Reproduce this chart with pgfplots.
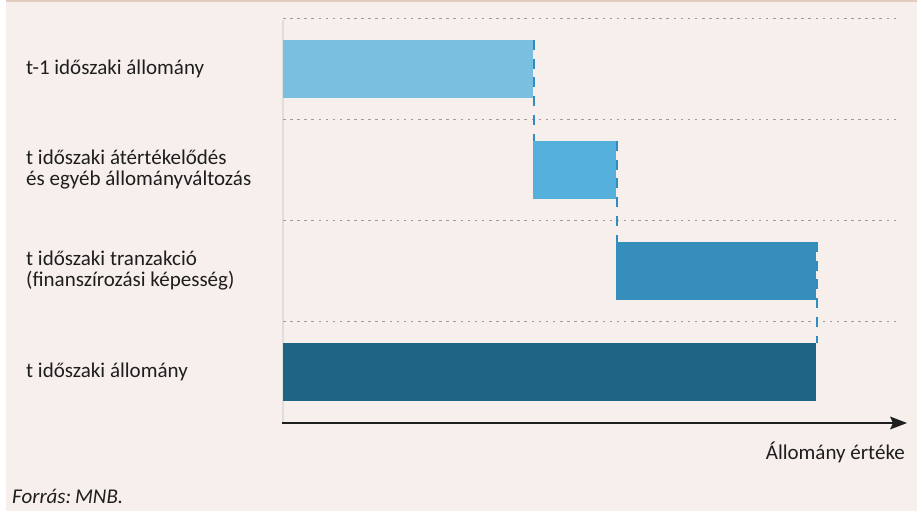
\documentclass[border=0pt]{standalone}
\usepackage{fontspec}
\setmainfont{Carlito}
\usepackage{pgfplots}
\pgfplotsset{compat=1.18}

\definecolor{bg}{HTML}{F6EFEC}
\definecolor{topline}{HTML}{E2CBBF}
\definecolor{barA}{HTML}{7BBFE0}
\definecolor{barB}{HTML}{56B0DC}
\definecolor{barC}{HTML}{358FBA}
\definecolor{barD}{HTML}{1E6585}
\definecolor{conn}{HTML}{2F8DC2}
\definecolor{gridc}{HTML}{9C9C9C}
\definecolor{txt}{HTML}{1E1E1E}

\begin{document}
\begin{tikzpicture}[x=1pt,y=1pt]
\useasboundingbox (0,0) rectangle (917,-511);
\fill[bg] (6,0) rectangle (917,-511);
\fill[topline] (6,0) rectangle (917,-2);
% left axis line (light grey)
\fill[black!13] (281.5,-20) rectangle (284,-422);

\begin{axis}[
    at={(283pt,-422.5pt)}, anchor=south west,
    scale only axis,
    width=613pt, height=404pt,
    xmin=0, xmax=613,
    ymin=0.5, ymax=4.5,
    axis line style={draw=none},
    tick style={draw=none},
    xtick=\empty,
    ytick={1,2,3,4},
    yticklabels={
        {t időszaki állomány},
        {t időszaki tranzakció\\(finanszírozási képesség)},
        {t időszaki átértékelődés\\és egyéb állományváltozás},
        {t-1 időszaki állomány}},
    yticklabel style={anchor=west, align=left, inner sep=0pt, xshift=-257pt,
        font=\fontsize{21}{21}\selectfont, text=txt},
    extra y ticks={1.5,2.5,3.5,4.5},
    extra y tick labels={},
    extra y tick style={ymajorgrids=true,
        major grid style={gridc, line width=1.6pt, dash pattern=on 2.6pt off 4.5pt}},
    xlabel={Állomány értéke},
    xlabel style={at={(rel axis cs:1,0)}, anchor=north east, inner sep=0pt,
        xshift=9pt, yshift=-19pt, font=\fontsize{21}{21}\selectfont, text=txt},
    clip=false,
]
% dashed connectors, drawn first so the bars cover their ends
\addplot[conn, line width=2.4pt, dash pattern=on 10pt off 8.7pt, xshift=1pt]
    coordinates {(250,4.287) (250,3.287)};
\addplot[conn, line width=2.4pt, dash pattern=on 10pt off 8.7pt, xshift=1pt]
    coordinates {(333,3.287) (333,2.287)};
\addplot[conn, line width=2.4pt, dash pattern=on 10pt off 8.7pt, xshift=1pt]
    coordinates {(533,2.287) (533,1.287)};

% bars
\addplot[fill=barA, draw=none] coordinates {(0,3.713) (250,3.713) (250,4.287) (0,4.287)} -- cycle;
\addplot[fill=barB, draw=none] coordinates {(250,2.713) (333,2.713) (333,3.287) (250,3.287)} -- cycle;
\addplot[fill=barC, draw=none] coordinates {(333,1.713) (533,1.713) (533,2.287) (333,2.287)} -- cycle;
\addplot[fill=barD, draw=none] coordinates {(0,0.713) (533,0.713) (533,1.287) (0,1.287)} -- cycle;
\end{axis}

% value axis arrow
\draw[txt, line width=2.6pt] (281.5,-423) -- (893,-423);
\fill[txt] (907,-423) -- (890,-416.5) -- (893,-423) -- (890,-429.5) -- cycle;

\node[anchor=base west, inner sep=0pt, text=txt, font=\fontsize{21}{21}\selectfont\itshape]
    at (12,-503) {Forrás:\kern-1pt\ MNB.};
\end{tikzpicture}
\end{document}
